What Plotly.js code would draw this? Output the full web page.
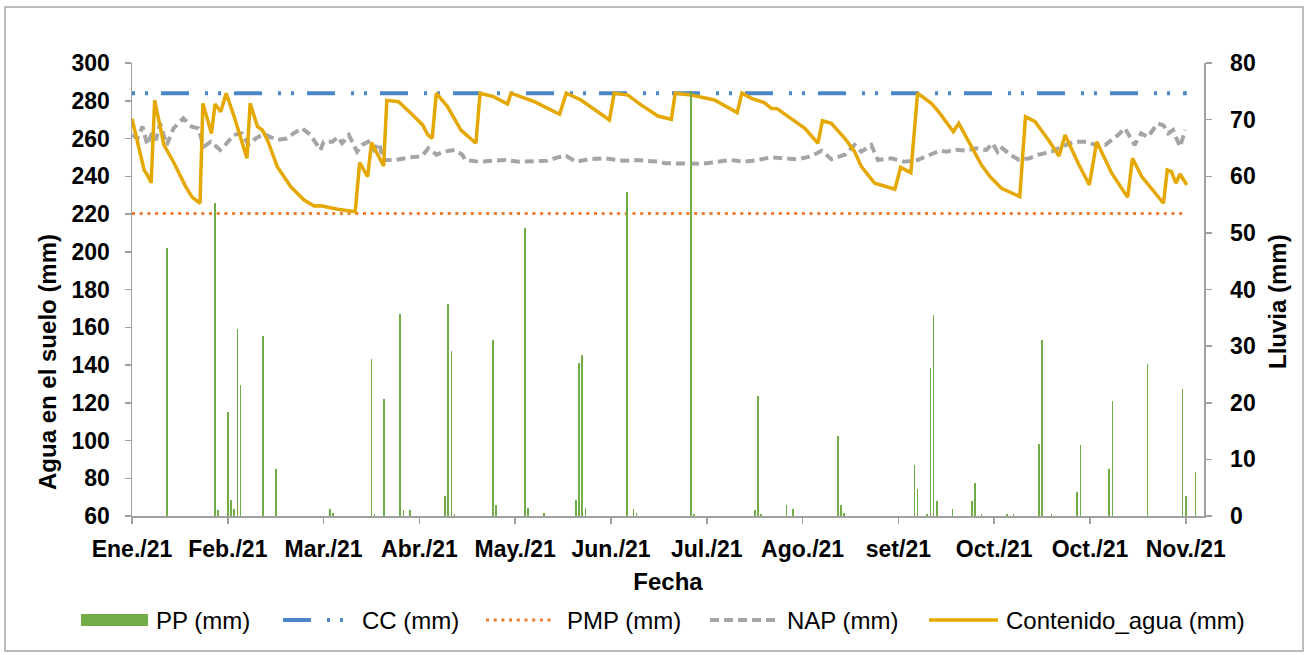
<!DOCTYPE html>
<html><head><meta charset="utf-8">
<script src="https://cdn.plot.ly/plotly-3.0.1.min.js"></script>
<style>html,body{margin:0;padding:0;background:#fff}#chart{width:1307px;height:655px}</style>
</head><body><div id="chart"></div>
<script>
// x values = days counted from the start of the record (Jan 2021)
const tickDays = [0,30,60,90,120,150,180,210,240,270,300,330];
const tickLabels = ['Ene./21','Feb./21','Mar./21','Abr./21','May./21','Jun./21','Jul./21','Ago./21','set/21','Oct./21','Oct./21','Nov./21'];

// PP (mm) – daily rainfall
const rainDays = [11,26,27,30,31,32,33,34,41,45,62,63,75,76,79,84,85,87,98,99,100,101,113,114,123,124,129,139,140,141,142,155,157,158,175,176,195,196,197,205,207,221,222,223,245,246,249,250,251,252,257,263,264,266,274,276,284,285,288,296,297,306,307,318,329,330,333];
const rainMm   = [47.3,55.2,1.1,18.4,2.9,1.2,33.0,23.1,31.8,8.3,1.2,0.6,27.8,0.3,20.6,35.6,1.1,1.1,3.6,37.4,29.2,0.3,31.1,1.9,50.9,1.5,0.6,2.9,27.1,28.5,1.5,57.2,1.3,0.6,75.0,0.4,1.0,21.2,0.3,1.9,1.2,14.1,1.9,0.6,9.0,4.8,0.3,26.1,35.5,2.6,1.2,2.6,5.9,0.3,0.4,0.3,12.7,31.1,0.3,4.3,12.5,8.3,20.3,26.8,22.4,3.6,7.7];

// Contenido_agua (mm)
const waterDays = [0,2.2,3.8,4.8,6,7.1,8.2,10,13.2,16.8,18.9,21.3,22.2,24.9,26,27.8,29.5,32,36,37,39.3,40.8,42.4,45.5,49.7,53.9,57,59.2,64.4,69.9,71.3,73.8,75,78.8,79.8,83.5,87.9,91,92.6,94,95.3,98.8,103,107.7,109,113.2,117.6,118.7,126,133.9,136,140.6,149.5,151,155.3,159.5,164.7,168.9,170.1,175.1,182.4,189.5,191,194,198,200.2,202,206.5,210.7,214.8,216.2,219,223.2,226.3,228.4,232.6,238.9,240.7,243.9,246,250.3,253,257.2,258.9,261.8,266,268.7,272.3,278,279.8,282.8,287,290.3,292.2,296.3,299.8,302.1,306.8,311.8,313.3,316.2,319.3,323,324.2,325.5,326.9,328.2,330.3];
const waterMm   = [270.5,253.9,243.3,240.7,236.5,280.2,271.5,256.6,246.9,234.5,228.8,225.7,278.6,262.7,278.3,274.2,284,271.5,249.5,278.6,266.3,264.5,259.2,245.1,234.5,227.4,224.2,224.4,222.5,221.2,247.2,239.8,257.8,245.4,280.2,279.5,272.5,267.2,262,260.1,284,276.9,264.5,257.5,284,282.2,278.3,284,279.5,272.8,284,280.4,269.8,284,283,277.7,271.9,270.2,284,283,280.4,273.7,284,281.3,279,276,275.8,270.7,265.4,257.5,269.4,268,260.1,253,245.1,236.3,233.1,244.7,241.9,284,278.6,273.3,263.6,268,259.2,246,239.8,233.6,229.2,271.5,268.9,259.2,250.7,261.9,246.9,235.4,258.3,241.6,228.8,249.5,239.8,233.6,225.7,243.3,242.5,236.3,241.2,235.4];

// NAP (mm)
const napDays = [0,1.7,3.3,4.8,6.2,7.5,8.8,10.9,13,16.1,18.7,20.8,22.4,24.7,27.6,29.7,31.8,34.4,36.5,38.6,41.2,45.4,48.5,50.6,53.3,55.9,59,60,62.7,64.5,65.8,67.9,70.5,72.1,74,75.7,77.3,78.8,82.5,87.1,90.7,92.8,95.4,97.5,101.2,103.4,104.4,108.6,112.8,117,121.2,126,130,133.3,136,139,143.5,147.9,154,158,165,167,173,178,182,187.5,191.8,196,200,204,208.5,212.6,216,219,223.2,226.3,228.4,231.5,233.6,237.8,241.8,246,250.3,253,255,258,261,264.3,267.5,269.5,271,272,275,277.8,281,283.8,288,291,295,299,301.6,304.8,308.8,310.9,314,316,318.1,321.2,323,324.5,326,328.2,329.8];
const napMm   = [261.9,260,266.3,256.6,262.7,259.2,268,256.6,265.4,270.7,266.3,265.4,255.6,258.3,253.9,257.5,261.9,262.7,256.6,259.9,262.4,259.2,260,262.7,265.4,261.9,253.9,258.3,258.3,260.8,257.5,261.9,253,256.6,258.3,253.9,257.5,248.6,248.6,250,250.5,254.8,251.4,253,253.9,251.4,248.6,247.7,248.2,248.6,247.7,248.2,248.2,250,250.7,247.7,249.1,249.5,248.2,248.6,247.7,246.9,246.6,246.6,247.3,248.6,247.7,248.6,250,249.5,249,250.5,253.6,249,251.4,256.6,253,256.6,248.6,249.5,247.7,248.6,251.4,253.6,253,254,253.6,254.8,253.9,257.5,253,255.6,251.4,248.6,249.5,251.4,253,255.6,258.3,258.3,256.6,256.6,261.9,265.4,256.6,262.7,260.8,268,267,262.7,264.5,255.6,264.5];

const ccMm = 284;     // CC (mm)
const pmpMm = 220.3;  // PMP (mm)
const seriesNames = ['PP (mm)','CC (mm)','PMP (mm)','NAP (mm)','Contenido_agua (mm)'];

// ---------- styling / layout ----------
const colors = {pp:'#70AD47', cc:'#4A86C8', pmp:'#ED7D31', nap:'#A5A5A5', water:'#E5A800'};
const dashes = {cc:'3px,10px,3px,13px,28px,16px', pmp:'3px,4.7px', nap:'9px,5px'};
const FONT = 'Liberation Sans, Arial, sans-serif';
const W = 1307, H = 655;
const PL = 132, PR = 1204, PT = 63, PB = 516;
const px2x = p => (p - PL) / (PR - PL);
const py2y = p => (PB - p) / (PB - PT);

const firstDay = waterDays[0], lastDay = waterDays[waterDays.length - 1];
const recordSpan = [firstDay, lastDay];

const traces = [
  {x: recordSpan, y: recordSpan.map(() => ccMm), type:'scatter', mode:'lines', name: seriesNames[1],
   line:{color:colors.cc, width:4, dash:dashes.cc}},
  {x: recordSpan, y: recordSpan.map(() => pmpMm), type:'scatter', mode:'lines', name: seriesNames[2],
   line:{color:colors.pmp, width:3, dash:dashes.pmp}},
  {x: napDays, y: napMm, type:'scatter', mode:'lines', name: seriesNames[3],
   line:{color:colors.nap, width:4, dash:dashes.nap}},
  {x: waterDays, y: waterMm, type:'scatter', mode:'lines', name: seriesNames[4],
   line:{color:colors.water, width:3.5}},
  {x: rainDays, y: rainMm, type:'bar', name: seriesNames[0], yaxis:'y2', width:0.5,
   marker:{color:colors.pp, line:{width:0}}}
];

const tickFont = {family:FONT, size:23, color:'#000', weight:'bold'};
const axisCommon = {showgrid:false, zeroline:false, showline:true, linecolor:'#A0A0A0', linewidth:1.5,
  ticks:'outside', ticklen:6, tickcolor:'#A0A0A0', tickwidth:1.5, tickfont:tickFont};

const shapes = [
  {type:'rect', xref:'paper', yref:'paper', x0:px2x(5), x1:px2x(1303), y0:py2y(651), y1:py2y(7),
   line:{color:'#A6A6A6', width:1.5}, fillcolor:'rgba(0,0,0,0)', layer:'below'}
];
const annotations = [
  {text:'Agua en el suelo (mm)', xref:'paper', yref:'paper', x:px2x(47), y:py2y(362), textangle:-90,
   showarrow:false, xanchor:'center', yanchor:'middle', font:{family:FONT, size:24, color:'#000', weight:'bold'}},
  {text:'Lluvia (mm)', xref:'paper', yref:'paper', x:px2x(1277), y:py2y(302), textangle:-90,
   showarrow:false, xanchor:'center', yanchor:'middle', font:{family:FONT, size:24, color:'#000', weight:'bold'}}
];

// manual legend (long symbols as in the original)
const legendY = py2y(620);
const legendItems = [
  {kind:'rect', s0:81, s1:148, t:154, color:colors.pp},
  {kind:'line', s0:283, s1:348, t:360, color:colors.cc, width:4, dash:'28px,16px,3px,10px,3px,13px'},
  {kind:'line', s0:486, s1:552, t:565, color:colors.pmp, width:3, dash:dashes.pmp},
  {kind:'line', s0:710, s1:779, t:785, color:colors.nap, width:4, dash:dashes.nap},
  {kind:'line', s0:929, s1:998, t:1004, color:colors.water, width:3.5, dash:'solid'}
];
legendItems.forEach((it, i) => {
  if (it.kind === 'rect') {
    shapes.push({type:'rect', xref:'paper', yref:'paper', x0:px2x(it.s0), x1:px2x(it.s1),
      y0:py2y(626), y1:py2y(614), fillcolor:it.color, line:{width:0}});
  } else {
    shapes.push({type:'line', xref:'paper', yref:'paper', x0:px2x(it.s0), x1:px2x(it.s1),
      y0:legendY, y1:legendY, line:{color:it.color, width:it.width, dash:it.dash}});
  }
  annotations.push({text:seriesNames[i], xref:'paper', yref:'paper', x:px2x(it.t), y:legendY,
    xanchor:'left', yanchor:'middle', showarrow:false, font:{family:FONT, size:24, color:'#000'}});
});

const layout = {
  width:W, height:H, margin:{l:PL, r:W-PR, t:PT, b:H-PB},
  paper_bgcolor:'#fff', plot_bgcolor:'#fff', showlegend:false, bargap:0,
  font:{family:FONT, color:'#000'},
  xaxis: Object.assign({}, axisCommon, {range:[0, 335.7], tickmode:'array', tickvals:tickDays, ticktext:tickLabels,
    ticklabelstandoff:6,
    title:{text:'Fecha', font:{family:FONT, size:24, color:'#000', weight:'bold'}, standoff:12}}),
  yaxis: Object.assign({}, axisCommon, {range:[60, 300], dtick:20, tick0:60, ticklabelstandoff:10}),
  yaxis2: Object.assign({}, axisCommon, {range:[0, 80], dtick:10, tick0:0, overlaying:'y', side:'right', ticklabelstandoff:14}),
  shapes: shapes, annotations: annotations
};

Plotly.newPlot('chart', traces, layout, {displayModeBar:false, staticPlot:true});
</script></body></html>
